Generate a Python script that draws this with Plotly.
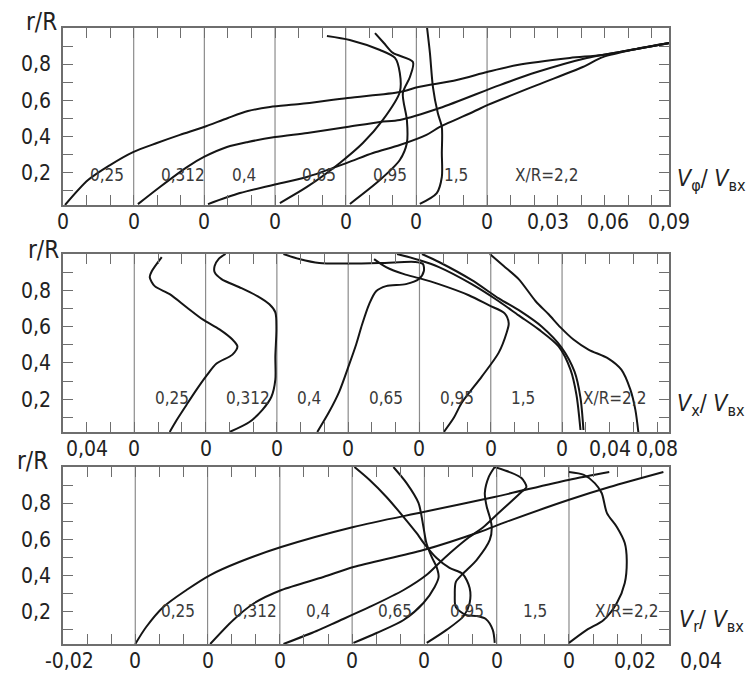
import plotly.graph_objects as go

FONT = "Liberation Sans Narrow, DejaVu Sans Condensed, Roboto, Arial, sans-serif"
INK = "#151515"
FRAME = "#6e6e6e"

# Cross-section stations X/R (one profile per station in each panel)
stations = ["0,25", "0,312", "0,4", "0,65", "0,95", "1,5", "X/R=2,2"]

# ---------- Vφ / Vвх : r/R and value measured from each station's own zero ----------
vphi_r_025 = [0.02, 0.158, 0.241, 0.313, 0.363, 0.408, 0.452, 0.502, 0.540, 0.563, 0.579, 0.613,
              0.646, 0.673, 0.712, 0.756, 0.795, 0.834, 0.851, 0.884, 0.917]
vphi_v_025 = [0.001, 0.0124, 0.0233, 0.0347, 0.0465, 0.0579, 0.0698, 0.0817, 0.0916, 0.1025, 0.1173, 0.141,
              0.167, 0.176, 0.195, 0.210, 0.225, 0.251, 0.267, 0.284, 0.300]
vphi_r_0312 = [0.025, 0.12, 0.23, 0.286, 0.341, 0.369, 0.396, 0.419, 0.452, 0.48, 0.491, 0.557,
               0.684, 0.756, 0.834, 0.884, 0.917]
vphi_v_0312 = [0.0021, 0.013, 0.0264, 0.0348, 0.0462, 0.0566, 0.070, 0.086, 0.1056, 0.122, 0.1318, 0.1516,
               0.1813, 0.1997, 0.2244, 0.249, 0.2655]
vphi_r_04 = [0.025, 0.086, 0.131, 0.175, 0.253, 0.308, 0.352, 0.408, 0.452, 0.535, 0.574, 0.684,
             0.784, 0.839, 0.884, 0.917]
vphi_v_04 = [0.0018, 0.0176, 0.034, 0.0508, 0.0706, 0.0835, 0.0968, 0.110, 0.1166, 0.133, 0.1404, 0.1647,
             0.1874, 0.1973, 0.214, 0.2305]
vphi_r_065 = [0.031, 0.120, 0.253, 0.363, 0.491, 0.646, 0.751, 0.834, 0.878, 0.934, 0.956]
vphi_v_065 = [0.0024, 0.0158, 0.0321, 0.0435, 0.0534, 0.0618, 0.0618, 0.0594, 0.052, 0.037, 0.0257]
vphi_r_095 = [0.026, 0.158, 0.269, 0.363, 0.491, 0.640, 0.729, 0.812, 0.862, 0.917, 0.972]
vphi_v_095 = [0.0021, 0.0169, 0.0268, 0.0303, 0.0303, 0.0283, 0.0318, 0.0333, 0.0234, 0.0189, 0.0145]
vphi_r_15 = [0.026, 0.086, 0.175, 0.308, 0.452, 0.529, 0.673, 0.862, 1.0]
vphi_v_15 = [0.0017, 0.0101, 0.0126, 0.0126, 0.0126, 0.0106, 0.0082, 0.0067, 0.0053]

# ---------- Vx / Vвх ----------
vx_r_025 = [0.02, 0.086, 0.17, 0.253, 0.33, 0.397, 0.446, 0.491, 0.529, 0.585, 0.64, 0.707,
            0.779, 0.823, 0.873, 0.905, 0.983]
vx_v_025 = [0.0298, 0.0357, 0.044, 0.0524, 0.0608, 0.0692, 0.0826, 0.0868, 0.0826, 0.0717, 0.0575, 0.044,
            0.0298, 0.0172, 0.013, 0.0147, 0.0231]
vx_r_0312 = [0.02, 0.075, 0.142, 0.214, 0.308, 0.435, 0.585, 0.679, 0.723, 0.768, 0.817, 0.862,
             0.9, 0.934, 0.972, 1.0]
vx_v_0312 = [0.0201, 0.0369, 0.0478, 0.0554, 0.0587, 0.0587, 0.0596, 0.0587, 0.0537, 0.0436, 0.0285, 0.0134,
             0.0076, 0.0076, 0.0109, 0.0168]
vx_r_04 = [0.02, 0.131, 0.241, 0.391, 0.502, 0.612, 0.723, 0.795, 0.823, 0.834, 0.862, 0.906,
           0.945, 0.956, 0.950, 0.950, 0.972, 1.0]
vx_v_04 = [0.034, 0.044, 0.0524, 0.0608, 0.0667, 0.0717, 0.0776, 0.0835, 0.0919, 0.1086, 0.1195, 0.1237,
           0.1229, 0.1162, 0.086, 0.0357, 0.0189, 0.0055]
vx_r_065 = [0.02, 0.098, 0.181, 0.325, 0.457, 0.568, 0.618, 0.673, 0.718, 0.773, 0.834, 0.867,
            0.889, 0.928, 0.972]
vx_v_065 = [0.0805, 0.0889, 0.0956, 0.1124, 0.1267, 0.1334, 0.1351, 0.1317, 0.1183, 0.1015, 0.0763, 0.0596,
            0.047, 0.0319, 0.0218]
vx_r_095 = [0.031, 0.225, 0.363, 0.491, 0.585, 0.662, 0.740, 0.834, 0.928, 0.967, 1.0]
vx_v_095 = [0.1355, 0.1321, 0.1271, 0.1171, 0.1003, 0.0835, 0.0667, 0.044, 0.0164, -0.0004, -0.0189]
vx_r_15 = [0.031, 0.208, 0.352, 0.485, 0.601, 0.684, 0.756, 0.856, 0.956, 1.0]
vx_v_15 = [0.078, 0.0755, 0.0705, 0.0596, 0.0428, 0.0252, 0.0067, -0.0159, -0.0436, -0.0579]
vx_r_22 = [0.02, 0.142, 0.253, 0.363, 0.424, 0.474, 0.529, 0.596, 0.668, 0.740, 0.862, 0.934, 1.0]
vx_v_22 = [0.0642, 0.0617, 0.0575, 0.0499, 0.039, 0.0222, 0.0096, -0.0013, -0.0113, -0.0222, -0.0365,
           -0.0491, -0.0608]

# ---------- Vr / Vвх ----------
vr_r_025 = [0.02, 0.114, 0.225, 0.319, 0.402, 0.474, 0.557, 0.668, 0.751, 0.834, 0.928, 0.972]
vr_v_025 = [0.0, 0.0033, 0.0085, 0.0155, 0.0227, 0.0315, 0.0442, 0.0661, 0.0873, 0.1088, 0.1312, 0.1436]
vr_r_0312 = [0.02, 0.153, 0.247, 0.319, 0.391, 0.446, 0.540, 0.640, 0.696, 0.817, 0.889, 0.972]
vr_v_0312 = [0.0008, 0.0078, 0.0142, 0.0224, 0.0351, 0.0442, 0.0654, 0.0824, 0.0905, 0.1093, 0.1218, 0.1381]
vr_r_04 = [0.02, 0.092, 0.142, 0.225, 0.319, 0.402, 0.469, 0.540, 0.612, 0.668, 0.734, 0.801,
           0.862, 0.889, 0.939, 0.972, 1.0]
vr_v_04 = [0.0011, 0.0111, 0.0172, 0.0272, 0.0375, 0.0444, 0.0483, 0.0526, 0.0574, 0.0617, 0.0656, 0.0696,
           0.0732, 0.0747, 0.0732, 0.0696, 0.065]
vr_r_065 = [0.026, 0.081, 0.153, 0.247, 0.336, 0.391, 0.446, 0.502, 0.579, 0.668, 0.801, 0.911, 1.0]
vr_v_065 = [0.0004, 0.0074, 0.0156, 0.0216, 0.025, 0.0262, 0.0256, 0.0241, 0.0225, 0.0216, 0.0201, 0.0165,
            0.0125]
vr_r_095 = [0.026, 0.098, 0.175, 0.247, 0.330, 0.408, 0.441, 0.496, 0.579, 0.635, 0.723, 0.834, 0.928, 1.0]
vr_v_095 = [0.0007, 0.0067, 0.0119, 0.0137, 0.0137, 0.0116, 0.0076, 0.0037, -0.0002, -0.0024, -0.0063,
            -0.0115, -0.0166, -0.0212]
vr_r_15 = [0.026, 0.098, 0.158, 0.175, 0.181, 0.225, 0.291, 0.363, 0.408, 0.485, 0.596, 0.668, 0.723,
           0.779, 0.856, 0.945, 1.0]
vr_v_15 = [-0.0006, -0.0012, -0.0033, -0.0061, -0.0094, -0.0124, -0.0127, -0.0124, -0.0103, -0.0061,
           -0.0021, -0.0015, -0.0021, -0.003, -0.0036, -0.0024, -0.0006]
vr_r_22 = [0.026, 0.098, 0.153, 0.247, 0.358, 0.485, 0.579, 0.668, 0.745, 0.856, 0.911, 0.956, 0.972]
vr_v_22 = [0.0, 0.0054, 0.0105, 0.0145, 0.0169, 0.0175, 0.0169, 0.0145, 0.0115, 0.0099, 0.0078, 0.0045, 0.0]

# Scale labels on the value axes (value, text); "first" is read from the first zero,
# "last" from the last station's zero
vphi_last_ticks = [(0.03, "0,03"), (0.06, "0,06"), (0.09, "0,09")]
vx_first_ticks = [(-0.04, "0,04")]
vx_last_ticks = [(0.04, "0,04"), (0.08, "0,08")]
vr_first_ticks = [(-0.02, "-0,02")]
vr_last_ticks = [(0.02, "0,02"), (0.04, "0,04")]

r_ticks = [0.1, 0.2, 0.3, 0.4, 0.5, 0.6, 0.7, 0.8, 0.9]
r_ticktext = ["", "0,2", "", "0,4", "", "0,6", "", "0,8", ""]

panels = [
    dict(step=0.035, xr=[0.0, 0.3001], top=28, bottom=205,
         curves=[(0, vphi_r_025, vphi_v_025), (1, vphi_r_0312, vphi_v_0312), (2, vphi_r_04, vphi_v_04),
                 (3, vphi_r_065, vphi_v_065), (4, vphi_r_095, vphi_v_095), (5, vphi_r_15, vphi_v_15)],
         first=[], last=vphi_last_ticks, lab_frac=0.36, lab_r=0.186, rR=(-0.035, 1.034),
         title="<i>V</i><sub>φ</sub>/ <i>V</i><sub>вх</sub>", title_y=180),
    dict(step=0.06, xr=[-0.06, 0.45], top=254, bottom=432,
         curves=[(0, vx_r_025, vx_v_025), (1, vx_r_0312, vx_v_0312), (2, vx_r_04, vx_v_04),
                 (3, vx_r_065, vx_v_065), (4, vx_r_095, vx_v_095), (5, vx_r_15, vx_v_15),
                 (6, vx_r_22, vx_v_22)],
         first=vx_first_ticks, last=vx_last_ticks, lab_frac=0.26, lab_r=0.208, rR=(-0.033, 1.022),
         title="<i>V</i><sub>x</sub>/ <i>V</i><sub>вх</sub>", title_y=405),
    dict(step=0.0219, xr=[-0.0219, 0.1617], top=467, bottom=644,
         curves=[(0, vr_r_025, vr_v_025), (1, vr_r_0312, vr_v_0312), (2, vr_r_04, vr_v_04),
                 (3, vr_r_065, vr_v_065), (4, vr_r_095, vr_v_095), (5, vr_r_15, vr_v_15),
                 (6, vr_r_22, vr_v_22)],
         first=vr_first_ticks, last=vr_last_ticks, lab_frac=0.33, lab_r=0.203, rR=(-0.05, 1.034),
         title="<i>V</i><sub>r</sub>/ <i>V</i><sub>вх</sub>", title_y=621),
]

W, H = 752, 675
LEFT, RIGHT = 63, 669

fig = go.Figure()
shapes, annotations = [], []

for i, p in enumerate(panels, start=1):
    suffix = "" if i == 1 else str(i)
    xa, ya = "x" + suffix, "y" + suffix
    S = p["step"]
    lo, hi = p["xr"]
    n_st = len(stations)

    for k, r_vals, v_vals in p["curves"]:
        fig.add_trace(go.Scatter(
            x=[k * S + v for v in v_vals], y=r_vals, mode="lines",
            line=dict(color=INK, width=2, shape="spline", smoothing=0.8),
            xaxis=xa, yaxis=ya, showlegend=False, hoverinfo="skip"))

    # station zero lines
    for k in range(n_st):
        x0 = k * S
        if x0 - lo < 1e-6:
            continue
        shapes.append(dict(type="line", xref=xa, yref=f"{ya} domain", x0=x0, x1=x0, y0=0, y1=1,
                           line=dict(color="#8c8c8c", width=1.2), layer="below"))

    # ticks every third of a station step, aligned on the zero grid
    d = S / 3
    tv = []
    j = int(lo / d) - 1
    while j * d < hi:
        t = j * d
        if lo + 0.3 * d < t < hi - 0.2 * d:
            tv.append(round(t, 6))
        j += 1

    dom_x = [LEFT / W, RIGHT / W]
    dom_y = [1 - p["bottom"] / H, 1 - p["top"] / H]
    axis_common = dict(showline=True, linecolor=FRAME, linewidth=1.5, mirror="ticks",
                       ticks="inside", ticklen=10, tickwidth=1.3, tickcolor=FRAME,
                       showgrid=False, zeroline=False, fixedrange=True)
    fig.update_layout(**{
        "xaxis" + suffix: dict(domain=dom_x, range=[lo, hi], anchor=ya, tickmode="array",
                               tickvals=tv, showticklabels=False, **axis_common),
        "yaxis" + suffix: dict(domain=dom_y, range=[0.02, 1.0], anchor=xa, tickmode="array",
                               tickvals=r_ticks, ticktext=r_ticktext, ticklabelstandoff=6,
                               tickfont=dict(family=FONT, size=21, color="#222"), **axis_common),
    })

    # value labels under the axis (placed on the axis' own fraction so that
    # a label just past the right end is still drawn)
    xlabels = [(k * S, "0") for k in range(n_st)]
    xlabels += [(v, t) for v, t in p["first"]]
    xlabels += [((n_st - 1) * S + v, t) for v, t in p["last"]]
    for xv, txt in xlabels:
        annotations.append(dict(x=(xv - lo) / (hi - lo), y=0, xref=f"{xa} domain", yref=f"{ya} domain",
                                text=txt, showarrow=False, xanchor="center", yanchor="top", yshift=-3,
                                font=dict(family=FONT, size=21, color="#222")))

    # station labels
    for k, name in enumerate(stations):
        annotations.append(dict(x=k * S + p["lab_frac"] * S, y=p["lab_r"], xref=xa, yref=ya, text=name,
                                showarrow=False, xanchor="left", yanchor="middle",
                                font=dict(family=FONT, size=17, color="#3a3a3a")))

    # r/R heading
    annotations.append(dict(x=p["rR"][0], y=p["rR"][1], xref=f"{xa} domain", yref=f"{ya} domain",
                            text="r/R", showarrow=False, xanchor="center", yanchor="middle",
                            font=dict(family=FONT, size=24, color="#222")))
    # quantity name at the right
    annotations.append(dict(x=711 / W, y=1 - p["title_y"] / H, xref="paper", yref="paper",
                            text=p["title"], showarrow=False, xanchor="center", yanchor="middle",
                            font=dict(family=FONT, size=23, color="#222")))

fig.update_layout(width=W, height=H, margin=dict(l=0, r=0, t=0, b=0),
                  paper_bgcolor="white", plot_bgcolor="white",
                  shapes=shapes, annotations=annotations, showlegend=False)

fig.write_html("out.html")
